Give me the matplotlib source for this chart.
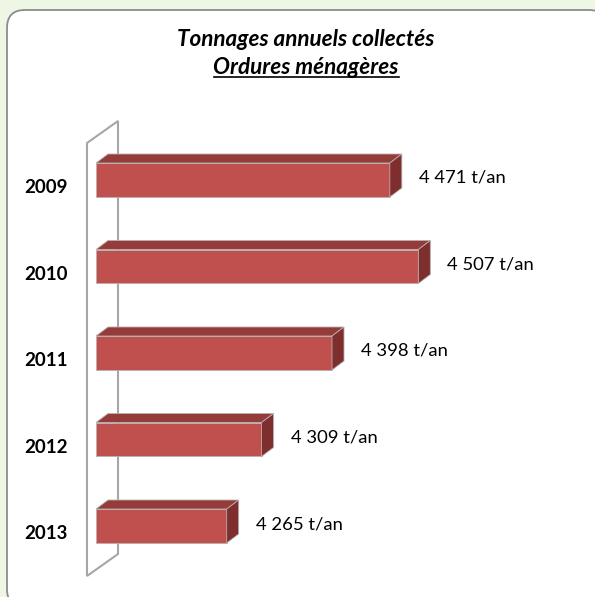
import matplotlib
matplotlib.use("Agg")
import matplotlib.pyplot as plt
from matplotlib.patches import FancyBboxPatch, Polygon
from matplotlib.lines import Line2D
from matplotlib import transforms

# data
years = ["2009", "2010", "2011", "2012", "2013"]
tonnages = [4471, 4507, 4398, 4309, 4265]
title_1 = "Tonnages annuels collectés"
title_2 = "Ordures ménagères"
unit = "t/an"

x_min, x_max = 4100, 4600

FRONT = "#C0504D"
TOP = "#953B39"
SIDE = "#7E2F2D"
font = ["Lato", "DejaVu Sans"]

W, H = 595, 597
fig = plt.figure(figsize=(W / 100, H / 100), dpi=100)
fig.patch.set_facecolor("#EEF7E3")

# rounded white frame (pixels from bottom left)
frame = FancyBboxPatch((7 / W, -10 / H), 600 / W, 1.0,
                       boxstyle="round,pad=0,rounding_size=0.03",
                       transform=fig.transFigure, facecolor="white",
                       edgecolor="#8C8C8C", linewidth=1.3, zorder=-10)
fig.add_artist(frame)

# 3D wall behind the bars (pixel coords, origin top left)
wall = [(87, 576), (87, 143), (118, 121), (118, 554)]
fig.add_artist(Polygon([(x / W, 1 - y / H) for x, y in wall], closed=True,
                       transform=fig.transFigure, facecolor="none",
                       edgecolor="#A6A6A6", linewidth=1.5, zorder=-5))

ax = fig.add_axes([96 / W, 31 / H, 396 / W, 426 / H])
ax.set_xlim(x_min, x_max)
ax.set_ylim(4.4624, -0.4624)
ax.axis("off")
ax.patch.set_alpha(0)

pos = list(range(len(years)))
bar_h = 0.393
bars = ax.barh(pos, [t - x_min for t in tonnages], left=x_min, height=bar_h,
               color=FRONT, edgecolor="#B8B0B0", linewidth=0.6, zorder=3)

# depth of the 3D effect, in pixels converted to data units
px_x = (x_max - x_min) / 396
px_y = (4.4624 + 0.4624) / 426
dx, dy = 12 * px_x, -9 * px_y

for p, t in zip(pos, tonnages):
    y0 = p - bar_h / 2
    y1 = p + bar_h / 2
    top = [(x_min, y0), (t, y0), (t + dx, y0 + dy), (x_min + dx, y0 + dy)]
    side = [(t, y0), (t + dx, y0 + dy), (t + dx, y1 + dy), (t, y1)]
    ax.add_patch(Polygon(top, closed=True, facecolor=TOP, edgecolor="#B8B0B0",
                         linewidth=0.6, zorder=3))
    ax.add_patch(Polygon(side, closed=True, facecolor=SIDE, edgecolor="#B8B0B0",
                         linewidth=0.6, zorder=3))
    lab = f"{t:,}".replace(",", " ") + " " + unit
    tr = transforms.offset_copy(ax.transData, fig=fig, x=29, y=2, units="dots")
    ax.text(t, p, lab, transform=tr, ha="left", va="center", fontsize=13.3,
            family=font, color="black", clip_on=False)

for p, yr in zip(pos, years):
    tr = transforms.blended_transform_factory(fig.transFigure, ax.transData)
    ax.text(46 / W, p + 0.09, yr, transform=tr, ha="center", va="center",
            fontsize=13.5, fontweight="bold", family=font, clip_on=False)

# title
t1 = fig.text(306 / W, 1 - 39 / H, title_1, ha="center", va="center",
              fontsize=16.2, fontweight="bold", style="italic", family=font)
t2 = fig.text(306 / W, 1 - 67 / H, title_2, ha="center", va="center",
              fontsize=16.2, fontweight="bold", style="italic", family=font)

# underline the second title line
fig.canvas.draw()
bb = t2.get_window_extent(fig.canvas.get_renderer())
uy = bb.y0 + 1
fig.add_artist(Line2D([bb.x0 / W + 1 / W, bb.x1 / W], [uy / H, uy / H],
                      transform=fig.transFigure, color="black", linewidth=1.2))

fig.savefig("out.png", dpi=100)
